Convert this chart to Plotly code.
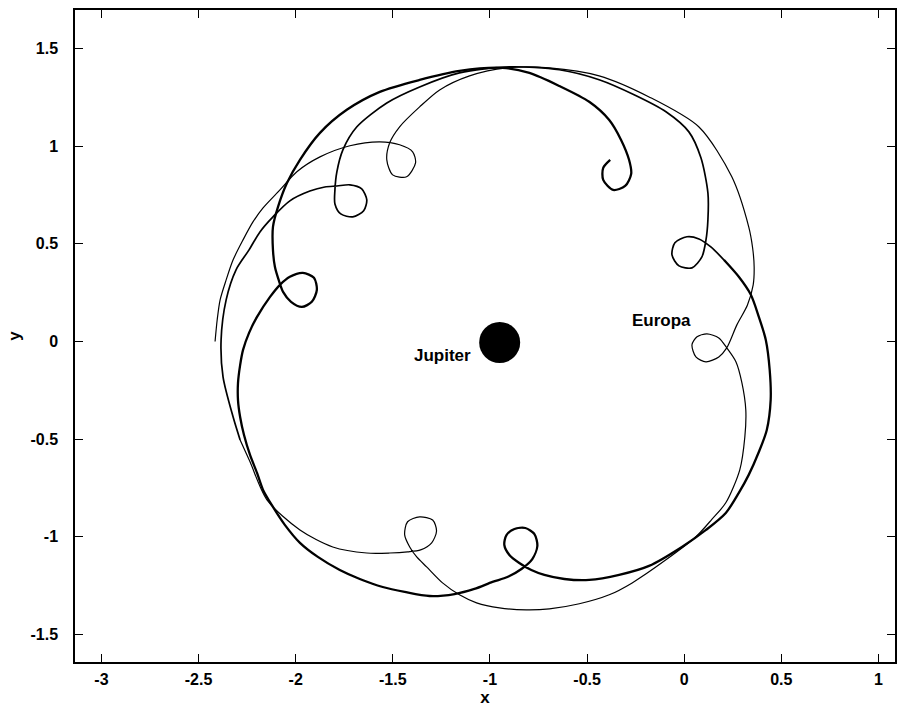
import plotly.graph_objects as go

# Spacecraft path in the Jupiter-Europa rotating frame, split into legs
# between successive close passes (each pass shows up as a small loop).

# Leg 1: start near apoapsis on the far left, first loop
leg1_x = [-2.415, -2.404, -2.389, -2.358, -2.322, -2.271, -2.220, -2.168, -2.081, -1.994,
          -1.875, -1.721, -1.567, -1.465, -1.398, -1.383, -1.429, -1.501, -1.531, -1.516,
          -1.465, -1.362]
leg1_y = [0.000, 0.111, 0.213, 0.315, 0.418, 0.520, 0.612, 0.684, 0.776, 0.869,
          0.945, 1.002, 1.022, 1.007, 0.971, 0.914, 0.843, 0.853, 0.930, 1.017,
          1.099, 1.201]

# Leg 2: over the top, down the right side, loop beside Europa
leg2_x = [-1.259, -1.105, -0.915, -0.694, -0.438, -0.181, 0.076, 0.245, 0.332, 0.352,
          0.360, 0.355, 0.325, 0.271, 0.219, 0.178, 0.112, 0.060, 0.040, 0.066,
          0.117, 0.178, 0.219, 0.266, 0.297, 0.317, 0.312]
leg2_y = [1.288, 1.360, 1.401, 1.401, 1.360, 1.252, 1.098, 0.843, 0.587, 0.480,
          0.380, 0.290, 0.185, 0.085, -0.033, -0.079, -0.104, -0.079, -0.017, 0.024,
          0.039, 0.018, -0.033, -0.104, -0.212, -0.351, -0.489]

# Leg 3: along the bottom, loop at lower left, out to the left side
leg3_x = [0.286, 0.214, 0.142, 0.060, -0.094, -0.268, -0.386, -0.540, -0.694, -0.813,
          -0.951, -1.069, -1.157, -1.244, -1.326, -1.377, -1.413, -1.439, -1.424, -1.362,
          -1.295, -1.275, -1.300, -1.357, -1.424, -1.516, -1.634, -1.809, -1.978, -2.148,
          -2.235, -2.286]
leg3_y = [-0.657, -0.826, -0.911, -1.000, -1.118, -1.236, -1.297, -1.343, -1.369, -1.374,
          -1.364, -1.338, -1.297, -1.236, -1.154, -1.103, -1.052, -0.990, -0.923, -0.898,
          -0.914, -0.970, -1.031, -1.067, -1.077, -1.083, -1.083, -1.052, -0.965, -0.811,
          -0.616, -0.504]

# Leg 4: up the left side, loop at upper left, over the top to the loop at upper right
leg4_x = [-2.322, -2.374, -2.384, -2.358, -2.307, -2.240, -2.184, -2.117, -2.030, -1.927,
          -1.850, -1.788, -1.721, -1.660, -1.634, -1.650, -1.706, -1.768, -1.798, -1.798,
          -1.788, -1.757, -1.685, -1.531, -1.362, -1.157, -0.900, -0.643, -0.438, -0.258,
          -0.094, 0.024, 0.086, 0.122, 0.122, 0.112, 0.091, 0.040, -0.027, -0.063,
          -0.048, 0.014, 0.076, 0.137, 0.204]
leg4_y = [-0.387, -0.181, 0.008, 0.213, 0.367, 0.469, 0.561, 0.638, 0.720, 0.770,
          0.791, 0.796, 0.802, 0.781, 0.725, 0.669, 0.638, 0.653, 0.704, 0.776,
          0.868, 0.981, 1.099, 1.221, 1.303, 1.375, 1.406, 1.391, 1.340, 1.263,
          1.176, 1.073, 0.940, 0.760, 0.623, 0.520, 0.433, 0.377, 0.387, 0.443,
          0.505, 0.536, 0.525, 0.484, 0.418]

# Leg 5: right side, bottom loop, left side loop, top, final curl
leg5_x = [0.281, 0.343, 0.384, 0.420, 0.440, 0.445, 0.425, 0.384, 0.332, 0.281,
          0.214, 0.112, -0.012, -0.181, -0.335, -0.489, -0.617, -0.720, -0.787, -0.849,
          -0.900, -0.926, -0.915, -0.874, -0.818, -0.771, -0.756, -0.782, -0.838, -0.910,
          -0.987, -1.080, -1.182, -1.311, -1.439, -1.552, -1.670, -1.773, -1.886, -1.978,
          -2.055, -2.117, -2.168, -2.199, -2.235, -2.266, -2.286, -2.297, -2.297, -2.286,
          -2.271, -2.240, -2.199, -2.132, -2.081, -2.030, -1.963, -1.906, -1.891, -1.917,
          -1.968, -2.024, -2.065, -2.086, -2.107, -2.117, -2.117, -2.091, -2.045, -1.978,
          -1.875, -1.737, -1.567, -1.362, -1.157, -0.936, -0.797, -0.643, -0.489, -0.386,
          -0.325, -0.284, -0.273, -0.304, -0.366, -0.417, -0.417, -0.381]
leg5_y = [0.331, 0.239, 0.126, 0.008, -0.146, -0.299, -0.453, -0.566, -0.683, -0.775,
          -0.878, -0.965, -1.052, -1.149, -1.195, -1.221, -1.216, -1.195, -1.170, -1.134,
          -1.093, -1.042, -0.991, -0.960, -0.955, -0.986, -1.047, -1.114, -1.165, -1.206,
          -1.231, -1.267, -1.293, -1.303, -1.282, -1.257, -1.216, -1.170, -1.103, -1.031,
          -0.940, -0.847, -0.760, -0.673, -0.581, -0.479, -0.387, -0.300, -0.213, -0.121,
          -0.043, 0.044, 0.126, 0.228, 0.290, 0.331, 0.351, 0.326, 0.264, 0.203,
          0.177, 0.203, 0.254, 0.310, 0.382, 0.469, 0.587, 0.689, 0.811, 0.930,
          1.068, 1.186, 1.278, 1.339, 1.385, 1.401, 1.375, 1.308, 1.227, 1.134,
          1.032, 0.930, 0.858, 0.796, 0.776, 0.827, 0.889, 0.930]

# Bodies
jupiter_x, jupiter_y = -0.95, -0.005
jupiter_label = ("Jupiter", -1.244, -0.071)
europa_label = ("Europa", -0.117, 0.105)

x_ticks = [-3, -2.5, -2, -1.5, -1, -0.5, 0, 0.5, 1]
y_ticks = [-1.5, -1, -0.5, 0, 0.5, 1, 1.5]


def fmt(v):
    return f"<b>{v:g}</b>"


fig = go.Figure()

thin_x = leg1_x + leg2_x + leg3_x
thin_y = leg1_y + leg2_y + leg3_y
mid_x = leg3_x[-1:] + leg4_x
mid_y = leg3_y[-1:] + leg4_y
thick_x = leg4_x[-1:] + leg5_x
thick_y = leg4_y[-1:] + leg5_y

for xs, ys, w in [(thin_x, thin_y, 1.2), (mid_x, mid_y, 1.7), (thick_x, thick_y, 2.3)]:
    fig.add_trace(go.Scatter(x=xs, y=ys, mode="lines",
                             line=dict(color="black", width=w, shape="spline", smoothing=0.8),
                             hoverinfo="skip", showlegend=False))

fig.add_trace(go.Scatter(x=[jupiter_x], y=[jupiter_y], mode="markers",
                         marker=dict(color="black", size=41, line=dict(width=0)),
                         hoverinfo="skip", showlegend=False))

family = "Liberation Sans, Arial, sans-serif"
label_font = dict(family=family, size=17, color="black")
for text, lx, ly in (jupiter_label, europa_label):
    fig.add_annotation(x=lx, y=ly, text=f"<b>{text}</b>", showarrow=False, font=label_font,
                       xanchor="center", yanchor="middle")

tick_font = dict(family=family, size=16, color="black")
title_font = dict(family=family, size=17, color="black")

axis_common = dict(showgrid=False, zeroline=False, showline=True, linecolor="black",
                   linewidth=1.5, mirror="allticks", ticks="inside", ticklen=8,
                   tickwidth=1.2, tickcolor="black", tickfont=tick_font)

fig.update_xaxes(range=[-3.136, 1.085], tickvals=x_ticks, ticktext=[fmt(v) for v in x_ticks],
                 title=dict(text="<b>x</b>", font=title_font, standoff=3),
                 ticklabelstandoff=2, **axis_common)
fig.update_yaxes(range=[-1.641, 1.697], tickvals=y_ticks, ticktext=[fmt(v) for v in y_ticks],
                 title=dict(text="<b>y</b>", font=title_font, standoff=6),
                 ticklabelstandoff=12, **axis_common)

fig.update_layout(width=902, height=711, autosize=False,
                  margin=dict(l=75, r=5, t=10, b=49),
                  paper_bgcolor="white", plot_bgcolor="white",
                  hovermode=False)

fig.write_html("out.html", config={"displayModeBar": False})
